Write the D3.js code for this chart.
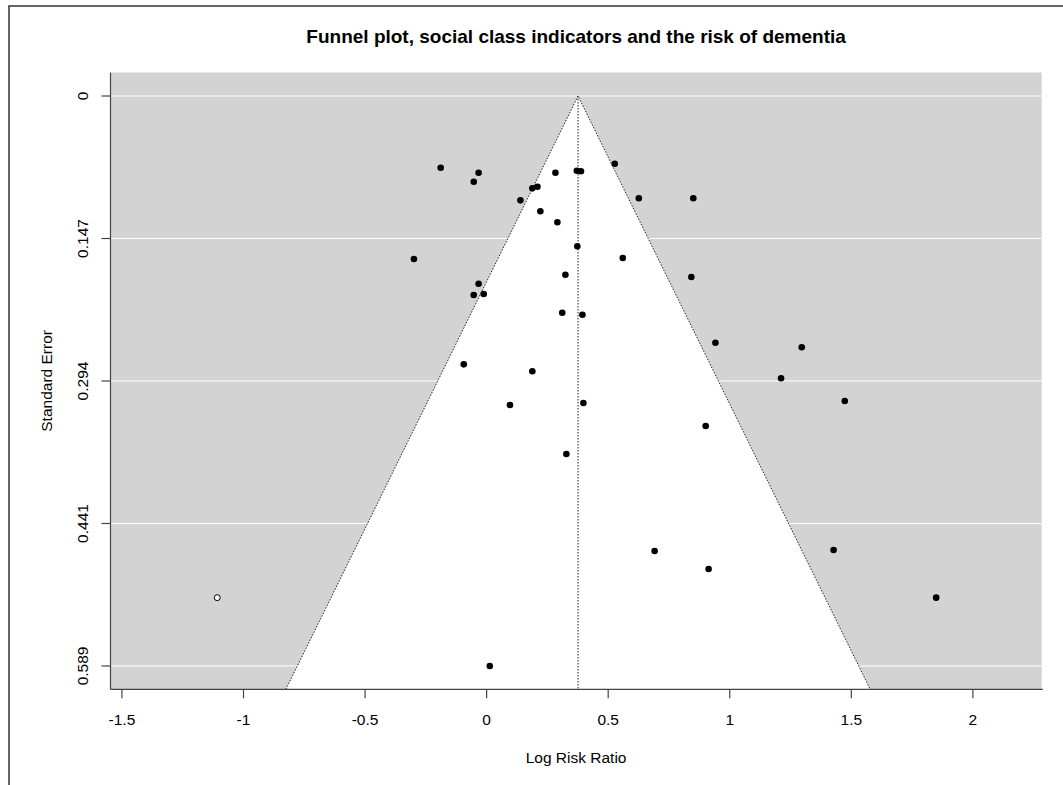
<!DOCTYPE html>
<html>
<head>
<meta charset="utf-8">
<script src="https://cdn.jsdelivr.net/npm/d3@7"></script>
<style>
  html, body { margin: 0; padding: 0; background: #ffffff; }
  svg { display: block; font-family: "Liberation Sans", Arial, sans-serif; }
</style>
</head>
<body>
<svg id="chart" width="1063" height="785"></svg>
<script>
// ---- Data ----
const logRiskRatio = [-0.189, -0.033, -0.053, -0.299, -0.033, -0.053, -0.012, -0.094,
  0.527, 0.283, 0.371, 0.388, 0.188, 0.209, 0.139, 0.626, 0.850, 0.221, 0.291, 0.373,
  0.560, 0.324, 0.842, 0.311, 0.394, 0.941, 1.296, 0.188, 1.211, 0.096, 0.398, 1.473,
  0.901, 0.328, 0.691, 1.427, 0.913, 1.849, 0.013];
const standardError = [0.0741, 0.0793, 0.0886, 0.1684, 0.194, 0.2056, 0.2046, 0.2773,
  0.070, 0.0793, 0.0772, 0.0778, 0.0954, 0.0937, 0.1078, 0.1057, 0.1057, 0.1191, 0.1305, 0.1553,
  0.1674, 0.1847, 0.187, 0.2239, 0.226, 0.2549, 0.2597, 0.2845, 0.2917, 0.3193, 0.3172, 0.3152,
  0.341, 0.370, 0.4702, 0.4692, 0.4888, 0.5184, 0.589];
// imputed (trim-and-fill) study
const filledLogRR = [-1.108];
const filledSE = [0.5184];
// pooled estimate
const pooledEstimate = [0.376];
// axis ticks
const xTicks = [-1.5, -1, -0.5, 0, 0.5, 1, 1.5, 2];
const xTickLabels = ["-1.5", "-1", "-0.5", "0", "0.5", "1", "1.5", "2"];
const yTicks = [0, 0.14725, 0.2945, 0.44175, 0.589];
const yTickLabels = ["0", "0.147", "0.294", "0.441", "0.589"];

const titleText = "Funnel plot, social class indicators and the risk of dementia";
const xLabel = "Log Risk Ratio";
const yLabel = "Standard Error";

// ---- Layout ----
const svg = d3.select("#chart");
const L = 110.5, R = 1041.7, T = 72.5, B = 689.3;
const xDomain = [-1.547, 2.283];
const yDomain = [-0.0243, 0.6131];
const x = d3.scaleLinear().domain(xDomain).range([L, R]);
const y = d3.scaleLinear().domain(yDomain).range([T, B]);
const fs = 15.5;

// outer frame (left & top)
svg.append("path")
  .attr("d", `M9,785 L9,6 L1063,6`)
  .attr("fill", "none").attr("stroke", "#333").attr("stroke-width", 1.5);

// plot background
svg.append("rect")
  .attr("x", L).attr("y", T).attr("width", R - L).attr("height", B - T)
  .attr("fill", "#d3d3d3");

// grid lines
svg.append("g").selectAll("line").data(yTicks).join("line")
  .attr("x1", L).attr("x2", R)
  .attr("y1", d => y(d)).attr("y2", d => y(d))
  .attr("stroke", "#ffffff").attr("stroke-width", 1.2);

// funnel (white region)
const th = pooledEstimate[0];
const seMax = yDomain[1];
const funnel = [[th - 1.96 * seMax, seMax], [th, 0], [th + 1.96 * seMax, seMax]];
svg.append("path")
  .attr("d", d3.line().x(d => x(d[0])).y(d => y(d[1]))(funnel) + "Z")
  .attr("fill", "#ffffff").attr("stroke", "none");
svg.append("path")
  .attr("d", d3.line().x(d => x(d[0])).y(d => y(d[1]))(funnel))
  .attr("fill", "none").attr("stroke", "#222").attr("stroke-width", 1)
  .attr("stroke-dasharray", "1.5,1.5");
// vertical line at estimate
svg.append("line")
  .attr("x1", x(th)).attr("x2", x(th)).attr("y1", y(0)).attr("y2", B)
  .attr("stroke", "#222").attr("stroke-width", 1).attr("stroke-dasharray", "1.5,1.5");

// axes lines
svg.append("line").attr("x1", L).attr("x2", L).attr("y1", T).attr("y2", B)
  .attr("stroke", "#444").attr("stroke-width", 1.2);
svg.append("line").attr("x1", L).attr("x2", R + 1).attr("y1", B).attr("y2", B)
  .attr("stroke", "#444").attr("stroke-width", 1.2);

// x ticks
const xg = svg.append("g");
xg.selectAll("line").data(xTicks).join("line")
  .attr("x1", d => x(d)).attr("x2", d => x(d)).attr("y1", B).attr("y2", B + 9)
  .attr("stroke", "#444").attr("stroke-width", 1.2);
xg.selectAll("text").data(xTicks).join("text")
  .attr("x", d => x(d)).attr("y", 724.5)
  .attr("text-anchor", "middle").attr("font-size", fs).attr("fill", "#000")
  .text((d, i) => xTickLabels[i]);

// y ticks
const yg = svg.append("g");
yg.selectAll("line").data(yTicks).join("line")
  .attr("x1", L - 9).attr("x2", L).attr("y1", d => y(d)).attr("y2", d => y(d))
  .attr("stroke", "#444").attr("stroke-width", 1.2);
yg.selectAll("text").data(yTicks).join("text")
  .attr("transform", d => `translate(87.5,${y(d)}) rotate(-90)`)
  .attr("text-anchor", "middle").attr("font-size", fs).attr("fill", "#000")
  .text((d, i) => yTickLabels[i]);

// points
svg.append("g").selectAll("circle").data(logRiskRatio).join("circle")
  .attr("cx", d => x(d)).attr("cy", (d, i) => y(standardError[i]))
  .attr("r", 3.3).attr("fill", "#000");
svg.append("g").selectAll("circle").data(filledLogRR).join("circle")
  .attr("cx", d => x(d)).attr("cy", (d, i) => y(filledSE[i]))
  .attr("r", 3).attr("fill", "#fff").attr("stroke", "#000").attr("stroke-width", 1);

// labels
svg.append("text").attr("x", (L + R) / 2).attr("y", 43)
  .attr("text-anchor", "middle").attr("font-size", 19).attr("font-weight", "bold")
  .attr("fill", "#000").text(titleText);
svg.append("text").attr("x", (L + R) / 2).attr("y", 762.5)
  .attr("text-anchor", "middle").attr("font-size", fs).attr("fill", "#000").text(xLabel);
svg.append("text").attr("transform", `translate(51.5,${(T + B) / 2}) rotate(-90)`)
  .attr("text-anchor", "middle").attr("font-size", fs).attr("fill", "#000").text(yLabel);
</script>
</body>
</html>
